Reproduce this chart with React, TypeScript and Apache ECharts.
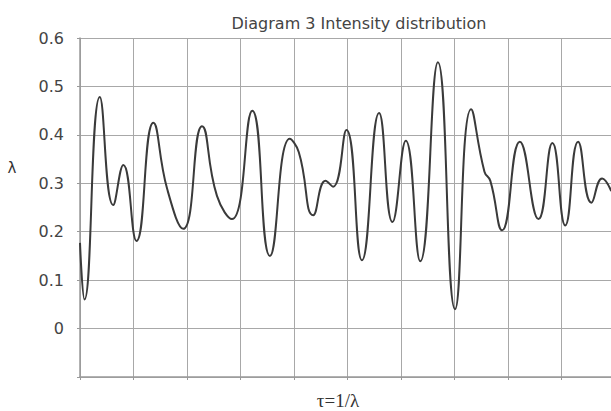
import React, { useEffect, useRef } from 'react';
import * as echarts from 'echarts';

const titleText = 'Diagram 3 Intensity distribution';
const xName = 'τ=1/λ';
const yName = 'λ';

const tau = [0, 0.084, 0.37, 0.62, 0.81, 1.056, 1.37, 1.63, 1.93, 2.28, 2.56, 2.84, 3.22, 3.55, 3.92, 4.09, 4.36, 4.59, 4.73, 4.98, 5.27, 5.59, 5.84, 6.09, 6.36, 6.69, 7.01, 7.31, 7.56, 7.67, 7.89, 8.22, 8.57, 8.83, 9.07, 9.31, 9.56, 9.76, 9.93];
const intensity = [0.177, 0.06, 0.478, 0.255, 0.338, 0.181, 0.425, 0.288, 0.206, 0.418, 0.274, 0.226, 0.45, 0.15, 0.392, 0.364, 0.234, 0.305, 0.293, 0.41, 0.141, 0.445, 0.22, 0.388, 0.139, 0.55, 0.04, 0.453, 0.324, 0.305, 0.203, 0.386, 0.226, 0.383, 0.213, 0.386, 0.26, 0.31, 0.284];

export default function App() {
  const ref = useRef<HTMLDivElement>(null);
  useEffect(() => {
    if (!ref.current) return;
    const chart = echarts.init(ref.current, undefined, { renderer: 'svg' });
    const data = tau.map((t, i) => [t, intensity[i]]);
    chart.setOption({
      animation: false,
      backgroundColor: '#ffffff',
      title: {
        text: titleText,
        left: 354,
        textAlign: 'center',
        top: 10,
        textStyle: { fontFamily: 'DejaVu Sans', fontSize: 16, fontWeight: 'normal', color: '#444' },
      },
      graphic: [
        {
          type: 'text',
          x: 12,
          y: 168,
          style: { text: yName, fontFamily: 'DejaVu Sans', fontSize: 15, fill: '#333', align: 'center', verticalAlign: 'middle' },
        },
        {
          type: 'text',
          x: 338,
          y: 400,
          style: { text: xName, fontFamily: 'Liberation Serif', fontSize: 19, fill: '#333', align: 'center', verticalAlign: 'middle' },
        },
      ],
      grid: { left: 80, top: 38, width: 535, bottom: 34, containLabel: false, outerBoundsMode: 'none' },
      xAxis: {
        type: 'value',
        min: 0,
        max: 10,
        interval: 1,
        axisLine: { show: true, onZero: false, lineStyle: { color: '#999', width: 1.5 } },
        axisTick: { show: true, length: 3, lineStyle: { color: '#999' } },
        axisLabel: { show: false },
        splitLine: { show: true, lineStyle: { color: '#a8a8a8', width: 1 } },
      },
      yAxis: {
        type: 'value',
        min: -0.1,
        max: 0.6,
        interval: 0.1,
        axisLine: { show: true, lineStyle: { color: '#999', width: 1.5 } },
        axisTick: { show: true, length: 3, lineStyle: { color: '#999' } },
        axisLabel: {
          margin: 16,
          fontFamily: 'DejaVu Sans',
          fontSize: 16,
          color: '#444',
          formatter: (v: number) => (v < -0.05 ? '' : String(Math.round(v * 10) / 10)),
        },
        splitLine: { show: true, lineStyle: { color: '#a8a8a8', width: 1 } },
      },
      series: [
        {
          type: 'line',
          data,
          smooth: 0.5,
          showSymbol: false,
          lineStyle: { color: '#3a3a3a', width: 2 },
        },
      ],
    });
    return () => chart.dispose();
  }, []);
  return <div ref={ref} style={{ width: 611, height: 411, position: 'absolute', left: 0, top: 0 }} />;
}
